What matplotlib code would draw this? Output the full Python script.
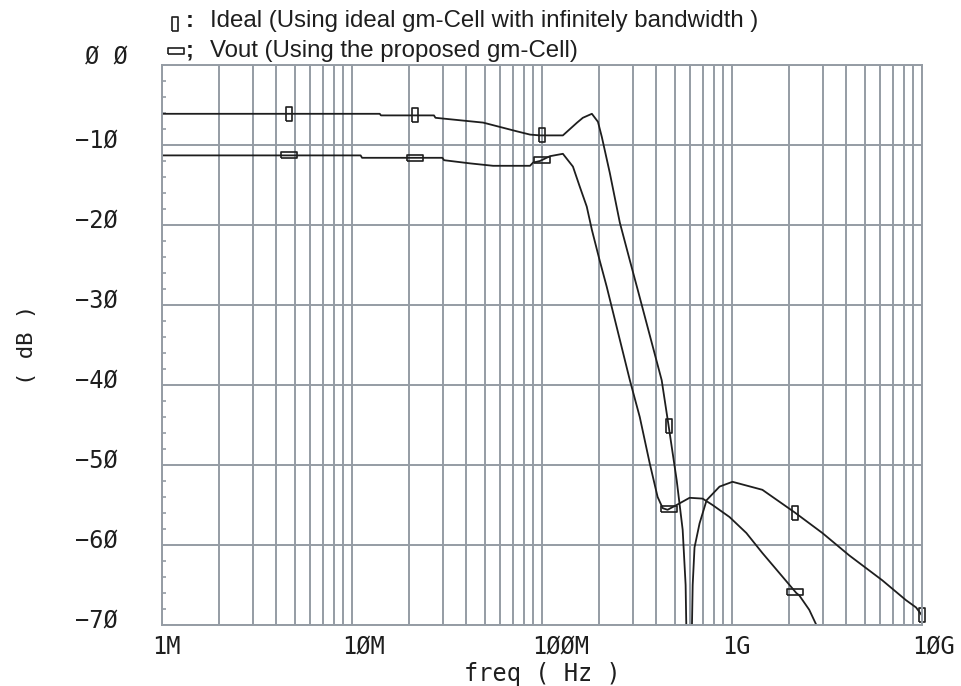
import numpy as np
import matplotlib
matplotlib.use("Agg")
import matplotlib.pyplot as plt
import matplotlib.transforms as mtransforms
from matplotlib.lines import Line2D
from matplotlib.ticker import LogLocator, MultipleLocator, FixedLocator, FixedFormatter, NullFormatter

# frequency response, ideal gm-cell (Hz, dB)
ideal_freq = [1e6, 14.0e6, 14.2e6, 27e6, 27.5e6, 49e6, 74e6, 86.5e6, 97.6e6, 128.8e6,
              153e6, 164e6, 183e6, 197e6, 206.5e6, 227.5e6, 256.8e6, 289.7e6, 319e6,
              426.5e6, 464.5e6, 511.5e6, 550e6, 570e6, 584e6, 605e6, 621e6, 635e6,
              675e6, 735e6, 860e6, 1.006e9, 1.445e9, 2.13e9, 2.99e9, 4.14e9, 6.17e9,
              8.24e9, 9.3e9, 10e9]
ideal_db = [-6.1, -6.1, -6.3, -6.3, -6.6, -7.2, -8.3, -8.7, -8.8, -8.8,
            -7.2, -6.6, -6.1, -7.1, -9.0, -13.5, -19.7, -24.4, -28.1,
            -39.4, -45.2, -51.9, -58.1, -65.0, -80.0, -80.0, -65.0, -60.3,
            -57.3, -54.4, -52.7, -52.1, -53.1, -55.9, -58.5, -61.3, -64.4,
            -66.9, -67.8, -68.8]

# frequency response, proposed gm-cell
vout_freq = [1e6, 11.1e6, 11.3e6, 29.9e6, 30.5e6, 41.9e6, 55.3e6, 86.5e6, 89.7e6, 97.6e6,
             110e6, 128.8e6, 145.5e6, 158e6, 172e6, 183e6, 201e6, 219e6, 290e6, 327e6,
             369e6, 406e6, 432e6, 458e6, 511e6, 598e6, 700e6, 790e6, 970e6, 1.19e9,
             1.445e9, 1.775e9, 2.18e9, 2.26e9, 2.55e9, 2.78e9]
vout_db = [-11.3, -11.3, -11.6, -11.6, -11.9, -12.3, -12.6, -12.6, -12.2, -12.0,
           -11.4, -11.1, -12.7, -15.2, -17.7, -20.6, -24.4, -27.7, -39.4, -44.0,
           -49.8, -54.0, -55.4, -55.6, -55.0, -54.1, -54.2, -55.0, -56.5, -58.5,
           -61.0, -63.5, -66.0, -66.3, -68.1, -70.0]

ideal_marks = [4.64e6, 21.5e6, 100e6, 464e6, 2.15e9, 10e9]
vout_marks = [4.64e6, 21.5e6, 100e6, 464e6, 2.15e9]

y_ticks = [-10, -20, -30, -40, -50, -60, -70]
y_labels = ["−1Ø", "−2Ø", "−3Ø", "−4Ø", "−5Ø", "−6Ø", "−7Ø"]
x_ticks = [1e6, 1e7, 1e8, 1e9, 1e10]
x_labels = ["1M", "1ØM", "1ØØM", "1G", "1ØG"]

legend_text = ["Ideal (Using ideal gm-Cell with infinitely bandwidth )",
               "Vout (Using the proposed gm-Cell)"]

GRID = "#959ca4"
INK = "#1e1e1e"
MONO = ["DejaVu Sans Mono"]
SANS = ["Liberation Sans", "DejaVu Sans"]

tall_box = [(-1.2, -3), (1.2, -3), (1.2, 3), (-1.2, 3), (-1.2, -3)]
wide_box = [(-3, -1), (3, -1), (3, 1), (-3, 1), (-3, -1)]

fig = plt.figure(figsize=(9.62, 6.86), dpi=100)
ax = fig.add_axes([162 / 962, 61 / 686, 760 / 962, 560 / 686])

ax.set_xscale("log")
ax.set_xlim(1e6, 1e10)
ax.set_ylim(-70, 0)

ax.plot(ideal_freq, ideal_db, color=INK, lw=1.3)
ax.plot(vout_freq, vout_db, color=INK, lw=1.3)

# markers sit on the traces
im_y = np.interp(np.log10(ideal_marks), np.log10(ideal_freq), ideal_db)
vm_y = np.interp(np.log10(vout_marks), np.log10(vout_freq), vout_db)
ax.plot(ideal_marks, im_y, ls="none", marker=tall_box, ms=9.8, mfc="none",
        mec=INK, mew=1.2, clip_on=False)
ax.plot(vout_marks, vm_y, ls="none", marker=wide_box, ms=11, mfc="none",
        mec=INK, mew=1.2, clip_on=False)

# grid
ax.xaxis.set_major_locator(FixedLocator(x_ticks))
ax.xaxis.set_major_formatter(FixedFormatter(x_labels))
ax.xaxis.set_minor_locator(LogLocator(base=10, subs=np.arange(2, 10)))
ax.xaxis.set_minor_formatter(NullFormatter())
ax.grid(True, which="both", axis="x", color=GRID, lw=1.4)
ax.yaxis.set_major_locator(FixedLocator([0] + y_ticks))
ax.yaxis.set_major_formatter(FixedFormatter([""] + y_labels))
ax.yaxis.set_minor_locator(MultipleLocator(2))
ax.grid(True, which="major", axis="y", color=GRID, lw=1.4)
ax.set_axisbelow(True)

for s in ax.spines.values():
    s.set_color(GRID)
    s.set_linewidth(1.4)

ax.tick_params(axis="x", which="both", length=0, pad=7)
ax.tick_params(axis="y", which="major", length=0, pad=32)
ax.tick_params(axis="y", which="minor", direction="in", length=3, width=1.2, color=GRID)

shift_up = mtransforms.ScaledTranslation(0, 0.07, fig.dpi_scale_trans)
for lab in ax.get_yticklabels():
    lab.set_fontfamily(MONO)
    lab.set_fontsize(17)
    lab.set_color(INK)
    lab.set_transform(lab.get_transform() + shift_up)

shift_left = mtransforms.ScaledTranslation(-0.10, 0, fig.dpi_scale_trans)
for lab in ax.get_xticklabels():
    lab.set_fontfamily(MONO)
    lab.set_fontsize(17)
    lab.set_color(INK)
    lab.set_horizontalalignment("left")
    lab.set_transform(lab.get_transform() + shift_left)

ax.annotate("Ø Ø", xy=(0, 0), xycoords=("axes fraction", "data"),
            xytext=(-25, 6), textcoords="offset points", ha="right", va="center",
            family=MONO, fontsize=17, color=INK)

ax.set_xlabel("freq ( Hz )", family=MONO, fontsize=17, color=INK, labelpad=2)
ax.set_ylabel("( dB )", family=MONO, fontsize=16, color=INK, va="center")
ax.yaxis.set_label_coords((27 - 162) / 760, 0.5)

# legend drawn above the plot
fig.add_artist(Line2D([175 / 962], [1 - 24 / 686], transform=fig.transFigure,
                      marker=tall_box, ms=9.8, mfc="none", mec=INK, mew=1.2, ls="none"))
fig.add_artist(Line2D([176 / 962], [1 - 51 / 686], transform=fig.transFigure,
                      marker=wide_box, ms=11, mfc="none", mec=INK, mew=1.2, ls="none"))
fig.text(186 / 962, 1 - 27 / 686, ":", family=SANS, fontsize=17, weight="bold",
         color=INK, va="baseline")
fig.text(186 / 962, 1 - 57 / 686, ";", family=SANS, fontsize=17, weight="bold",
         color=INK, va="baseline")
fig.text(210 / 962, 1 - 27 / 686, legend_text[0], family=SANS, fontsize=17.3,
         color=INK, va="baseline")
fig.text(210 / 962, 1 - 57 / 686, legend_text[1], family=SANS, fontsize=17.3,
         color=INK, va="baseline")

fig.savefig("out.png", dpi=100)
